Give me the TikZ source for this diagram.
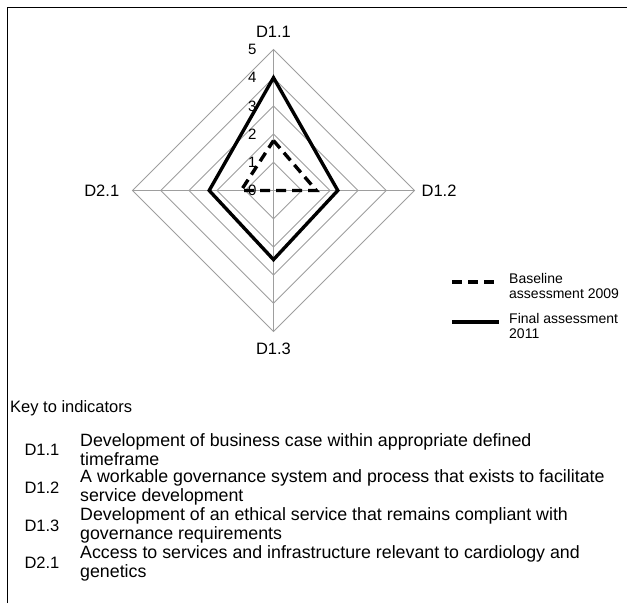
\documentclass[tikz,border=0pt]{standalone}
\usepackage{fontspec}
\setmainfont{Liberation Sans}
\begin{document}
\begin{tikzpicture}[x=1pt,y=-1pt,
  gridline/.style={draw=black!38, line width=0.9pt},
  finalline/.style={draw=black, line width=3.4pt, line join=miter},
  baseline/.style={draw=black, line width=3.4pt, dash pattern=on 10pt off 6pt, line join=miter},
  axtitle/.style={font=\fontsize{16.5}{18}\selectfont, inner sep=0pt},
  numlab/.style={font=\fontsize{15}{16}\selectfont, inner sep=0pt, anchor=east},
  legtext/.style={font=\fontsize{14}{15.5}\selectfont, inner sep=0pt, anchor=north west, align=left},
  keylab/.style={font=\fontsize{16.5}{19}\selectfont, inner sep=0pt},
  keyhead/.style={font=\fontsize{16.5}{19}\selectfont, inner sep=0pt, anchor=west},
  keytext/.style={font=\fontsize{17.8}{19}\selectfont, inner sep=0pt, anchor=west, align=left}]
\useasboundingbox (0,0) rectangle (627,603);
\draw[line width=1.5pt] (7.5,603) -- (7.5,7.5) -- (627,7.5);

\begin{scope}[shift={(273.5pt,-190.5pt)}, x=28.2pt, y=28.2pt]
  \coordinate (O) at (0,0);
  \foreach \k in {1,...,5}
    \draw[gridline] (0,\k) -- (\k,0) -- (0,-\k) -- (-\k,0) -- cycle;
  \draw[gridline] (0,5) -- (0,-5);
  \draw[gridline] (-5,0) -- (5,0);
  \foreach \k in {0,...,5}
    \node[numlab] (n\k) at (-0.6,\k) {\k};
  \node[axtitle] (t11) at (0,5.63) {D1.1};
  \node[axtitle] (t12) at (5.87,0) {D1.2};
  \node[axtitle] (t13) at (0,-5.63) {D1.3};
  \node[axtitle] (t21) at (-6.09,0) {D2.1};
  % final assessment 2011
  \coordinate (f11) at (0,4);
  \coordinate (f12) at (2.28,0);
  \coordinate (f13) at (0,-2.45);
  \coordinate (f21) at (-2.28,0);
  \draw[finalline] (f11) -- (f12) -- (f13) -- (f21) -- cycle;
  % baseline assessment 2009
  \coordinate (b11) at (0,1.77);
  \coordinate (b12) at (1.52,0);
  \coordinate (b13) at (0,0);
  \coordinate (b21) at (-1.15,0);
  \draw[baseline] (b11) -- (b12) -- (b13) -- (b21) -- cycle;
\end{scope}

% legend
\coordinate (lb1) at (452,282);
\coordinate (lb2) at (494,282);
\draw[baseline] (lb1) -- (lb2);
\node[legtext] (lbt) at (509,273) {Baseline\\assessment 2009};
\coordinate (lf1) at (452,322);
\coordinate (lf2) at (499,322);
\draw[finalline] (lf1) -- (lf2);
\node[legtext] (lft) at (509,313) {Final assessment\\2011};

% key
\node[keyhead] (key) at (10,408) {Key to indicators};
\node[keylab] (k1) at (42,450) {D1.1};
\node[keytext] (k1t) at (80,450) {Development of business case within appropriate defined\\timeframe};
\node[keylab] (k2) at (42,487.7) {D1.2};
\node[keytext] (k2t) at (80,487.7) {A workable governance system and process that exists to facilitate\\service development};
\node[keylab] (k3) at (42,525.4) {D1.3};
\node[keytext] (k3t) at (80,525.4) {Development of an ethical service that remains compliant with\\governance requirements};
\node[keylab] (k4) at (42,563.1) {D2.1};
\node[keytext] (k4t) at (80,563.1) {Access to services and infrastructure relevant to cardiology and\\genetics};
\end{tikzpicture}
\end{document}
